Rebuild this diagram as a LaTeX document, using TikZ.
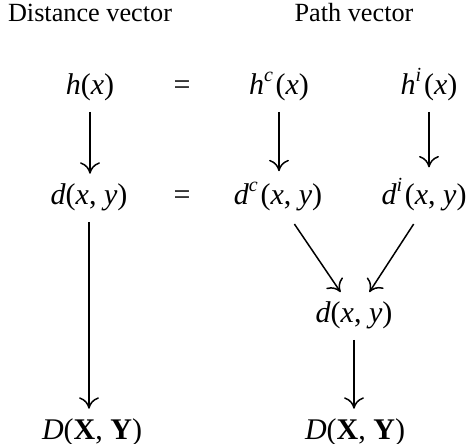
\documentclass[tikz,border=0pt]{standalone}
\usepackage{fontspec}
\setmainfont{Liberation Serif}
\usepackage{tikz}
\usetikzlibrary{arrows.meta,positioning}
\newcommand{\vr}[1]{\textit{#1\/}}
\newcommand{\vb}[1]{\textbf{#1}}
\newcommand{\sps}[1]{\raisebox{0.1em}{\textsuperscript{\textit{#1}}}\kern0.05em}
\tikzset{
  dvText/.style={anchor=base, inner sep=3pt, font=\fontsize{12}{14}\selectfont},
  dvTitle/.style={anchor=base, inner sep=0pt, font=\fontsize{10.5}{12}\selectfont},
  dvArrow/.style={-{To[length=1.6mm, width=2.8mm]}, line width=0.6pt,
    shorten >=1pt, shorten <=1pt}
}
\begin{document}
\begin{tikzpicture}[x=0.4pt, y=-0.4pt]
  \useasboundingbox (0,0) rectangle (472,444);

  % column titles
  \node[dvTitle] (titleDV) at (90,22) {Distance vector};
  \node[dvTitle] (titlePV) at (354,22) {Path vector};

  % top row
  \node[dvText] (hx) at (90,95) {\vr{h}(\vr{x})};
  \node[dvText] (eqh) at (182,95) {=};
  \node[dvText] (hcx) at (279,95) {\vr{h}\sps{c}(\vr{x})};
  \node[dvText] (hix) at (429,95) {\vr{h}\sps{i}(\vr{x})};

  % second row
  \node[dvText] (dxy) at (89,205) {\vr{d}(\vr{x}, \vr{y})};
  \node[dvText] (eqd) at (182,205) {=};
  \node[dvText] (dcxy) at (278,205) {\vr{d}\sps{c}(\vr{x}, \vr{y})};
  \node[dvText] (dixy) at (424,205) {\vr{d}\sps{i}(\vr{x}, \vr{y})};

  % merged path vector
  \node[dvText] (dpv) at (354,323) {\vr{d}(\vr{x}, \vr{y})};

  % bottom row
  \node[dvText] (Ddv) at (92,440) {\vr{D}(\vb{X}, \vb{Y})};
  \node[dvText] (Dpv) at (355,440) {\vr{D}(\vb{X}, \vb{Y})};

  \draw[dvArrow] (hx.south) -- (hx.south |- dxy.north);
  \draw[dvArrow] (dxy.south) -- (dxy.south |- Ddv.north);
  \draw[dvArrow] (hcx.south) -- (hcx.south |- dcxy.north);
  \draw[dvArrow] (hix.south) -- (hix.south |- dixy.north);
  \draw[dvArrow] ([xshift=6pt, yshift=-1pt]dcxy.south) -- ([xshift=-4.8pt]dpv.north);
  \draw[dvArrow] ([xshift=-3.6pt, yshift=-1pt]dixy.south) -- ([xshift=5.6pt]dpv.north);
  \draw[dvArrow] (dpv.south) -- (dpv.south |- Dpv.north);
\end{tikzpicture}
\end{document}
